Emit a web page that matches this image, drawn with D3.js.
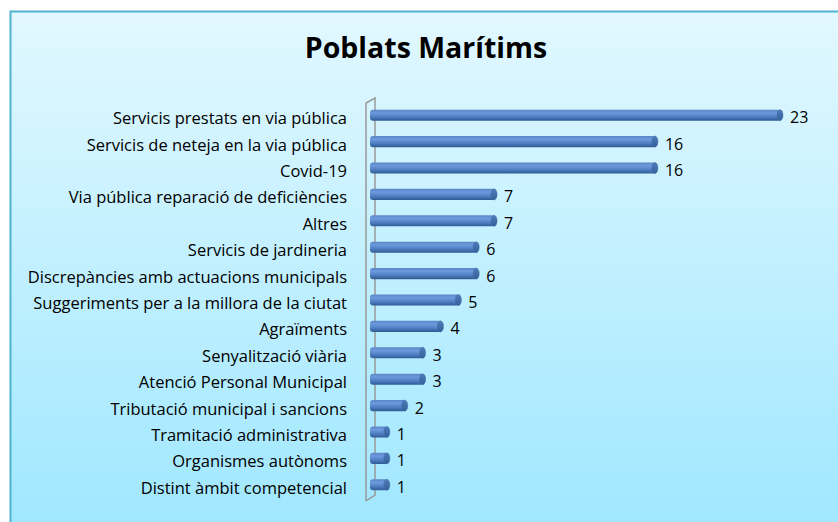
<!DOCTYPE html>
<meta charset="utf-8">
<script src="https://d3js.org/d3.v7.min.js"></script>
<style>
  body { margin: 0; background: #fff; }
</style>
<div id="my_dataviz"></div>
<script>
    // data
    const categories = [
        "Servicis prestats en via pública",
        "Servicis de neteja en la via pública",
        "Covid-19",
        "Via pública reparació de deficiències",
        "Altres",
        "Servicis de jardineria",
        "Discrepàncies amb actuacions municipals",
        "Suggeriments per a la millora de la ciutat",
        "Agraïments",
        "Senyalització viària",
        "Atenció Personal Municipal",
        "Tributació municipal i sancions",
        "Tramitació administrativa",
        "Organismes autònoms",
        "Distint àmbit competencial"
    ];
    const values = [23, 16, 16, 7, 7, 6, 6, 5, 4, 3, 3, 2, 1, 1, 1];
    const chartTitle = "Poblats Marítims";

    const W = 838, H = 522;
    const font = "'Open Sans', 'Noto Sans', sans-serif";
    const svg = d3.select("#my_dataviz")
        .append("svg")
        .attr("width", W)
        .attr("height", H)
        .style("display", "block");

    const defs = svg.append("defs");
    const bg = defs.append("linearGradient").attr("id", "bg")
        .attr("x1", 0).attr("y1", 0).attr("x2", 0).attr("y2", 1);
    bg.append("stop").attr("offset", 0).attr("stop-color", "#e2f8ff");
    bg.append("stop").attr("offset", 1).attr("stop-color", "#9fe7ff");

    const barGrad = defs.append("linearGradient").attr("id", "bar")
        .attr("x1", 0).attr("y1", 0).attr("x2", 0).attr("y2", 1);
    barGrad.append("stop").attr("offset", 0).attr("stop-color", "#5b86c4");
    barGrad.append("stop").attr("offset", 0.3).attr("stop-color", "#6d9ade");
    barGrad.append("stop").attr("offset", 0.7).attr("stop-color", "#4a7abd");
    barGrad.append("stop").attr("offset", 1).attr("stop-color", "#2f5a92");

    const capGrad = defs.append("linearGradient").attr("id", "cap")
        .attr("x1", 0).attr("y1", 0).attr("x2", 0).attr("y2", 1);
    capGrad.append("stop").attr("offset", 0).attr("stop-color", "#4f7cba");
    capGrad.append("stop").attr("offset", 1).attr("stop-color", "#345f98");

    // background frame
    svg.append("rect")
        .attr("x", 10.5).attr("y", 11.5)
        .attr("width", W).attr("height", H)
        .attr("fill", "url(#bg)")
        .attr("stroke", "#4fb3d0")
        .attr("stroke-width", 2);

    // title
    svg.append("text")
        .attr("x", 426).attr("y", 58)
        .attr("text-anchor", "middle")
        .style("font-family", font)
        .style("font-weight", "bold")
        .style("font-size", "28.5px")
        .attr("fill", "#000")
        .text(chartTitle);

    // scales
    const x = d3.scaleLinear().domain([0, 23]).range([370, 781]);
    const y = d3.scaleBand().domain(categories).range([102, 498]).paddingInner(0.58).paddingOuter(0.29);
    const bh = y.bandwidth();

    // 3D wall of the category axis
    const wall = svg.append("g").attr("fill", "none").attr("stroke", "#999").attr("stroke-width", 1.5);
    wall.append("path")
        .attr("d", `M366,${y.range()[1] + 3} L366,103 L375,98 L375,${y.range()[1] - 3}
                    L366,${y.range()[1] + 3}`);

    // bars
    const bars = svg.append("g")
        .selectAll("g")
        .data(values)
        .join("g")
        .attr("transform", (d, i) => `translate(0, ${y(categories[i])})`);

    bars.append("rect")
        .attr("x", x(0))
        .attr("y", 0)
        .attr("width", d => x(d) - x(0))
        .attr("height", bh)
        .attr("rx", 3)
        .attr("fill", "url(#bar)");

    bars.append("ellipse")
        .attr("cx", d => x(d) - 1)
        .attr("cy", bh / 2)
        .attr("rx", 3)
        .attr("ry", bh / 2)
        .attr("fill", "url(#cap)")
        .attr("stroke", "#3d6aa6")
        .attr("stroke-width", 0.5);

    // value labels
    bars.append("text")
        .attr("x", d => x(d) + 9)
        .attr("y", bh / 2 + 8)
        .style("font-family", font)
        .style("font-size", "16px")
        .attr("fill", "#000")
        .text(d => d);

    // category labels
    svg.append("g")
        .selectAll("text")
        .data(categories)
        .join("text")
        .attr("x", 347)
        .attr("y", d => y(d) + bh / 2 + 9)
        .attr("text-anchor", "end")
        .style("font-family", font)
        .style("font-size", "16.5px")
        .attr("fill", "#000")
        .text(d => d);
</script>
